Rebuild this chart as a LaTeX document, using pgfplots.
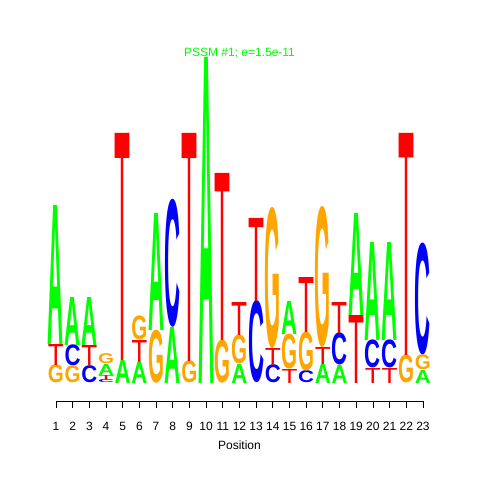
\documentclass[border=0pt]{standalone}
\usepackage{pgfplots}
\pgfplotsset{compat=1.18}
\usepackage{pgfplotstable}
\usepackage{graphicx}
\usepackage{fontspec}
\setmainfont{Liberation Sans}
\definecolor{lA}{RGB}{0,255,0}
\definecolor{lC}{RGB}{0,0,255}
\definecolor{lG}{RGB}{255,165,0}
\definecolor{lT}{RGB}{255,0,0}

% x = position, y = bottom of letter, h = letter height
\pgfplotstableread{
x y h
1 39 139
2 38 48
3 38 48
4 8 11
5 0 23
6 0 21
7 53 117
8 0 56
10 0 326
12 0 19
15 49 33
17 0 19
18 0 18
19 68 102
20 43 98
21 43 98
23 0 13
}\tA
\pgfplotstableread{
x y h
2 17 21
3 0 17
4 0 3
8 56 128
13 0 82
14 0 18
16 0 12
18 18 32
20 15 28
21 15 28
23 28 112
}\tC
\pgfplotstableread{
x y h
1 0 18
2 0 17
4 19 10
6 43 24
7 0 53
9 0 22
11 0 43
12 19 29
14 35 141
15 14 35
16 12 39
17 36 141
22 0 28
23 13 15
}\tG
\pgfplotstableread{
x y h
1 18 21
3 17 21
4 3 5
5 23 227
6 21 22
9 22 228
11 43 167
12 48 33
13 82 83
14 18 17
15 0 14
16 51 55
17 19 17
18 50 31
19 0 68
20 0 15
21 0 15
22 28 222
}\tT

\pgfplotsset{
  logoletter/.style n args={3}{
    only marks, mark=*, mark size=0pt, mark options={draw=none,fill=none},
    point meta=explicit,
    visualization depends on={\thisrow{h}\as\hh},
    nodes near coords={\resizebox*{16pt}{\hh pt}{#3\color{#1}#2}},
    every node near coord/.append style={anchor=south, inner sep=0pt, outer sep=0pt},
  }
}

\begin{document}
\begin{tikzpicture}
\begin{axis}[
  x=16.68pt, y=1pt,
  xmin=0.5, xmax=23.5, ymin=-18, ymax=326,
  axis x line*=bottom, axis y line=none,
  x axis line style={black, line width=0.8pt, shorten <=8.34pt, shorten >=8.34pt},
  xtick={1,...,23}, xtick align=outside, major tick length=7pt,
  tick style={black, line width=0.8pt},
  clip=false,
  /pgf/number format/assume math mode=true,
  ticklabel style={font=\fontsize{12}{14}\selectfont},
  xticklabel style={yshift=-11pt},
  xlabel={Position},
  xlabel style={at={(axis cs:12,-62)}, anchor=center, font=\fontsize{12}{14}\selectfont},
  title={PSSM \#1; e=1.5e-11},
  title style={at={(axis cs:12,326)}, anchor=base, yshift=-6pt, text=lA, font=\fontsize{12}{14}\selectfont},
]
\addplot[logoletter={lA}{A}{\bfseries}] table[x=x, y=y, meta=h] {\tA};
\addplot[logoletter={lC}{C}{\bfseries}] table[x=x, y=y, meta=h] {\tC};
\addplot[logoletter={lG}{G}{\bfseries}] table[x=x, y=y, meta=h] {\tG};
\addplot[logoletter={lT}{T}{\mdseries}] table[x=x, y=y, meta=h] {\tT};
\end{axis}
\pgfresetboundingbox
\path[use as bounding box] (-47.66pt,-79pt) rectangle (432.34pt,401pt);
\end{tikzpicture}
\end{document}
